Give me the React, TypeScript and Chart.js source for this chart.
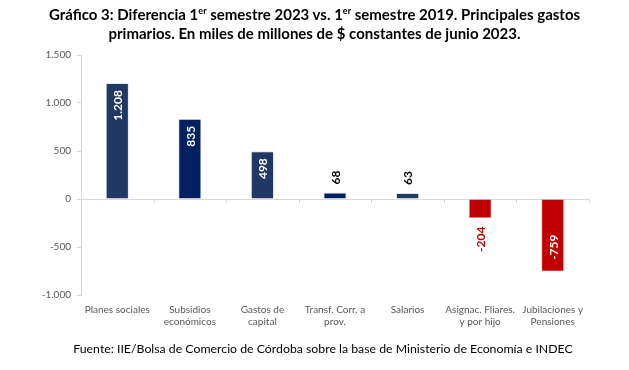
import React, { useEffect, useRef } from "react";
import { Chart, registerables } from "chart.js";

Chart.register(...registerables);

const categories: (string | string[])[] = [
  "Planes sociales",
  ["Subsidios", "económicos"],
  ["Gastos de", "capital"],
  ["Transf. Corr. a", "prov."],
  "Salarios",
  ["Asignac. Fliares.", "y por hijo"],
  ["Jubilaciones y", "Pensiones"],
];
const values: number[] = [1208, 835, 498, 68, 63, -204, -759];
const barColors: string[] = ["#1F3864", "#002060", "#1F3864", "#002060", "#1F3864", "#C00000", "#C00000"];
const yTicks: number[] = [-1000, -500, 0, 500, 1000, 1500];

const FONT = "Lato, 'Open Sans', sans-serif";

const fmt = (v: number) => {
  const s = Math.abs(v).toString().replace(/\B(?=(\d{3})+(?!\d))/g, ".");
  return (v < 0 ? "-" : "") + s;
};

const extrasPlugin = {
  id: "extras",
  afterDatasetsDraw(chart: any) {
    const ctx = chart.ctx;
    const xs = chart.scales.x;
    const ys = chart.scales.y;
    const y0 = ys.getPixelForValue(0);
    const n = categories.length;
    const w = (xs.right - xs.left) / n;
    ctx.save();
    ctx.strokeStyle = "#D9D9D9";
    ctx.lineWidth = 1;
    for (let i = 1; i <= n; i++) {
      const x = Math.round(xs.left + i * w) + 0.5;
      ctx.beginPath();
      ctx.moveTo(x, y0);
      ctx.lineTo(x, y0 + 4);
      ctx.stroke();
    }
    // data labels
    const meta = chart.getDatasetMeta(0);
    ctx.font = `bold 12px ${FONT}`;
    ctx.textBaseline = "middle";
    meta.data.forEach((bar: any, i: number) => {
      const v = values[i];
      const txt = fmt(v);
      const tw = ctx.measureText(txt).width;
      const len = Math.abs(bar.base - bar.y);
      const inside = len >= tw + 16;
      ctx.save();
      let py: number;
      let align: CanvasTextAlign;
      if (v >= 0) {
        if (inside) { py = bar.y + 7; align = "right"; ctx.fillStyle = "#FFFFFF"; }
        else { py = bar.y - 8; align = "left"; ctx.fillStyle = "#000000"; }
      } else {
        if (inside) { py = bar.y - 12; align = "left"; ctx.fillStyle = "#FFFFFF"; }
        else { py = bar.y + 8; align = "right"; ctx.fillStyle = "#C00000"; }
      }
      ctx.translate(bar.x, py);
      ctx.rotate(-Math.PI / 2);
      ctx.textAlign = align;
      ctx.fillText(txt, 0, 1);
      ctx.restore();
    });
    ctx.restore();
  },
};

export default function App() {
  const ref = useRef<HTMLCanvasElement>(null);
  useEffect(() => {
    const chart = new Chart(ref.current!, {
      type: "bar",
      data: {
        labels: categories,
        datasets: [
          {
            data: values,
            backgroundColor: barColors,
            borderColor: "rgba(220,225,235,0.8)",
            borderWidth: 1,
            categoryPercentage: 1,
            barPercentage: 0.32,
          },
        ],
      },
      options: {
        animation: false,
        responsive: false,
        devicePixelRatio: 1,
        layout: { padding: { left: 0, right: 40, top: 55, bottom: 35 } },
        plugins: { legend: { display: false }, tooltip: { enabled: false }, title: { display: false } },
        scales: {
          x: {
            grid: { display: false, drawTicks: false },
            border: { display: false },
            ticks: { color: "#595959", font: { family: FONT, size: 10 }, padding: 9, maxRotation: 0, autoSkip: false },
            afterFit: (s: any) => { s.height = 40; },
          },
          y: {
            min: -1000,
            max: 1500,
            afterBuildTicks: (s: any) => { s.ticks = yTicks.map((v) => ({ value: v })); },
            grid: {
              color: (c: any) => (c.tick && c.tick.value === 0 ? "#D9D9D9" : "rgba(0,0,0,0)"),
              tickColor: "#D9D9D9",
              tickLength: 4,
              drawOnChartArea: true,
            },
            border: { display: true, color: "#D9D9D9" },
            ticks: { color: "#595959", font: { family: FONT, size: 10 }, padding: 6, callback: (v: any) => fmt(Number(v)) },
            afterFit: (s: any) => { s.width = 81; },
          },
        },
      },
      plugins: [extrasPlugin],
    });
    return () => chart.destroy();
  }, []);

  return (
    <div style={{ position: "absolute", left: 0, top: 0, width: 629, height: 370, background: "#fff", fontFamily: FONT }}>
      <canvas ref={ref} width={629} height={370} style={{ position: "absolute", left: 0, top: 0, width: 629, height: 370 }} />
      <div style={{ position: "absolute", left: 0, top: 5, width: 629, textAlign: "center", fontWeight: 700, fontSize: 15, lineHeight: "19px", color: "#000" }}>
        Gráfico 3: Diferencia 1<sup style={{ fontSize: 9, lineHeight: 0 }}>er</sup> semestre 2023 vs. 1<sup style={{ fontSize: 9, lineHeight: 0 }}>er</sup> semestre 2019. Principales gastos
        <br />
        primarios. En miles de millones de $ constantes de junio 2023.
      </div>
      <div style={{ position: "absolute", left: 0, top: 341, width: 646, textAlign: "center", fontSize: 12.3, color: "#000" }}>
        Fuente: IIE/Bolsa de Comercio de Córdoba sobre la base de Ministerio de Economía e INDEC
      </div>
    </div>
  );
}
